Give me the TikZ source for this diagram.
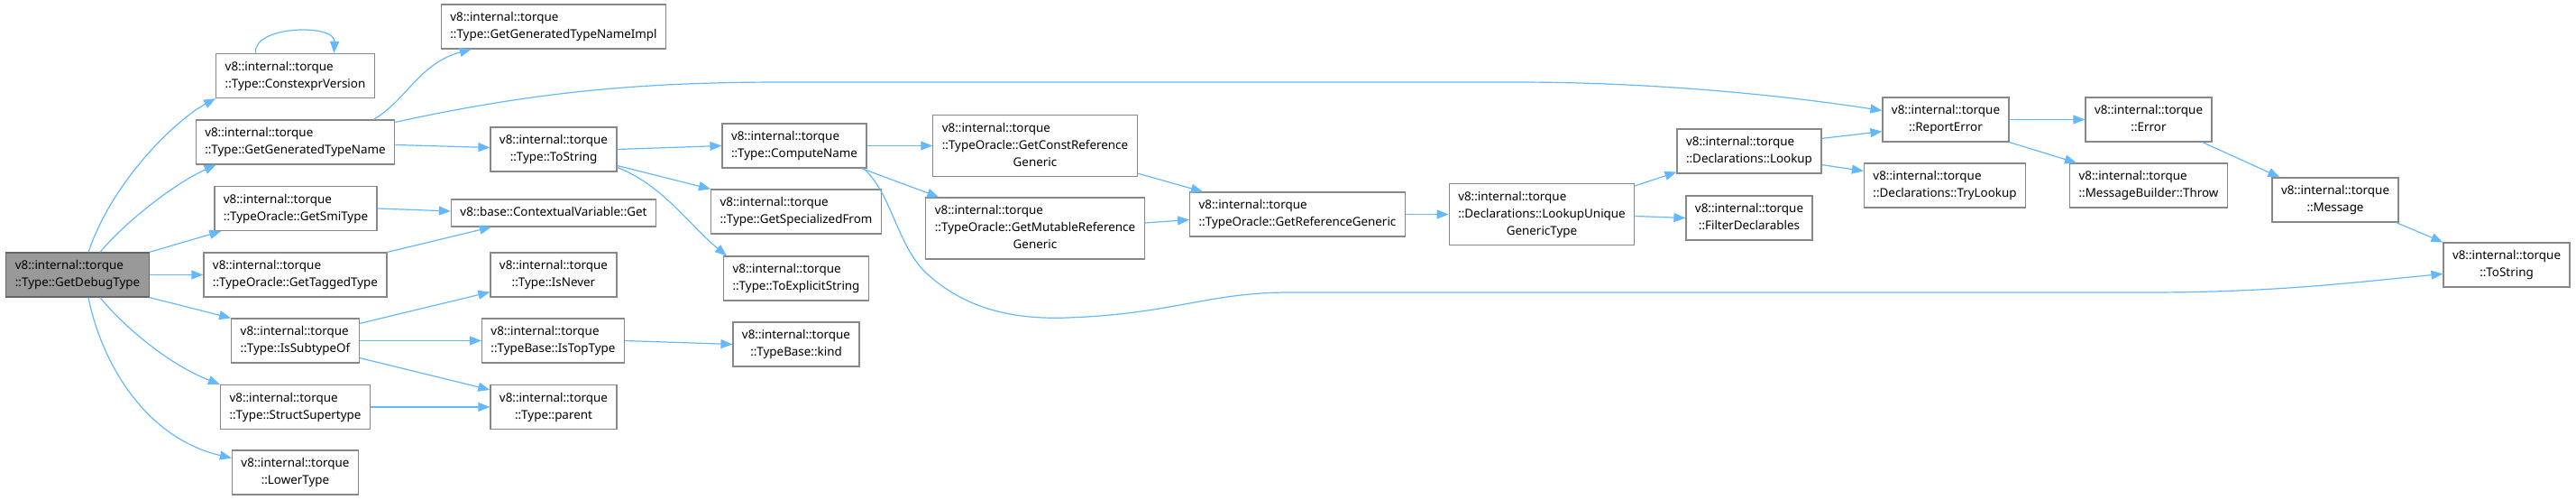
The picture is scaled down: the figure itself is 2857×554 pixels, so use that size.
\documentclass[tikz,border=0pt]{standalone}
\usepackage{fontspec}
\setmainfont{Noto Sans}
\usetikzlibrary{arrows.meta}
\definecolor{edgeblue}{HTML}{63B8FF}
\definecolor{boxgray}{HTML}{888888}
\definecolor{rootgray}{HTML}{999999}
\definecolor{rootline}{HTML}{666666}
% first lines left, last line centred
\newcommand{\fname}[2]{\begin{tabular}{@{}l@{}}#1\\\multicolumn{1}{@{}c@{}}{#2}\end{tabular}}

\begin{document}
\begin{tikzpicture}[x=1pt, y=-1pt,
  box/.style={rectangle, draw=boxgray, fill=white, line width=1.2pt, inner xsep=10pt, inner ysep=5.5pt, font=\fontsize{13.4}{19}\selectfont},
  root/.style={box, draw=rootline, fill=rootgray},
  arrow/.style={-{Triangle[length=13pt,width=10pt]}, edgeblue, line width=1.2pt}
]
\useasboundingbox (0,0) rectangle (2857,554);

\node[root] (deb) at (86,304.5) {\fname{v8::internal::torque}{::Type::GetDebugType}};
\node[box] (cev) at (327.5,84) {\fname{v8::internal::torque}{::Type::ConstexprVersion}};
\node[box] (gtn) at (327.5,157.5) {\fname{v8::internal::torque}{::Type::GetGeneratedTypeName}};
\node[box] (smi) at (328,231) {\fname{v8::internal::torque}{::TypeOracle::GetSmiType}};
\node[box] (tag) at (327.5,304.5) {\fname{v8::internal::torque}{::TypeOracle::GetTaggedType}};
\node[box] (sub) at (327.5,377.5) {\fname{v8::internal::torque}{::Type::IsSubtypeOf}};
\node[box] (sst) at (327.5,451) {\fname{v8::internal::torque}{::Type::StructSupertype}};
\node[box] (low) at (327.5,523.5) {\fname{v8::internal::torque}{::LowerType}};

\node[box] (gtni) at (614,29.5) {\fname{v8::internal::torque}{::Type::GetGeneratedTypeNameImpl}};
\node[box] (tts) at (614,165.5) {\fname{v8::internal::torque}{::Type::ToString}};
\node[box] (cvg) at (614,236) {\strut v8::base::ContextualVariable::Get};
\node[box] (nev) at (614,304.5) {\fname{v8::internal::torque}{::Type::IsNever}};
\node[box] (top) at (613.5,377.5) {\fname{v8::internal::torque}{::TypeBase::IsTopType}};
\node[box] (par) at (614,451) {\fname{v8::internal::torque}{::Type::parent}};

\node[box] (cmp) at (881,161.5) {\fname{v8::internal::torque}{::Type::ComputeName}};
\node[box] (spf) at (883,234.5) {\fname{v8::internal::torque}{::Type::GetSpecializedFrom}};
\node[box] (tes) at (883,308.5) {\fname{v8::internal::torque}{::Type::ToExplicitString}};
\node[box] (knd) at (883,381.5) {\fname{v8::internal::torque}{::TypeBase::kind}};

\node[box] (gcr) at (1148,161.5) {\fname{v8::internal::torque\\::TypeOracle::GetConstReference}{Generic}};
\node[box] (gmr) at (1148,253) {\fname{v8::internal::torque\\::TypeOracle::GetMutableReference}{Generic}};
\node[box] (grg) at (1439,237.5) {\fname{v8::internal::torque}{::TypeOracle::GetReferenceGeneric}};
\node[box] (lug) at (1710,237.5) {\fname{v8::internal::torque\\::Declarations::LookupUnique}{GenericType}};
\node[box] (dlk) at (1940,167.5) {\fname{v8::internal::torque}{::Declarations::Lookup}};
\node[box] (fdc) at (1940,241.5) {\fname{v8::internal::torque}{::FilterDeclarables}};

\node[box] (rep) at (2158,132.5) {\fname{v8::internal::torque}{::ReportError}};
\node[box] (tlk) at (2157,205.5) {\fname{v8::internal::torque}{::Declarations::TryLookup}};
\node[box] (err) at (2383,132.5) {\fname{v8::internal::torque}{::Error}};
\node[box] (thr) at (2383,205.5) {\fname{v8::internal::torque}{::MessageBuilder::Throw}};
\node[box] (msg) at (2590,221.5) {\fname{v8::internal::torque}{::Message}};
\node[box] (tos) at (2780,293.5) {\fname{v8::internal::torque}{::ToString}};

% calls from GetDebugType
\draw[arrow] ([xshift=12]deb.north) .. controls (125,200) and (195,133) .. (cev.south west);
\draw[arrow] ([xshift=25]deb.north) .. controls (135,250) and (190,205) .. ([xshift=23]gtn.south west);
\draw[arrow] (deb.north east) -- ([xshift=8]smi.south west);
\draw[arrow] (deb.east) -- (tag.west);
\draw[arrow] (deb.south east) -- (sub.north west);
\draw[arrow] ([xshift=25]deb.south) .. controls (140,365) and (190,405) .. (sst.north west);
\draw[arrow] ([xshift=12]deb.south) .. controls (112,400) and (160,485) .. ([yshift=16]low.west);

\draw[arrow] ([xshift=-44]cev.north) .. controls (280,28) and (372,26) .. ([xshift=43]cev.north);

% GetGeneratedTypeName
\draw[arrow] ([xshift=-24]gtn.north east) .. controls (450,112) and (465,70) .. ([xshift=34]gtni.south west);
\draw[arrow] ([yshift=-3]gtn.north east) .. controls (600,100) and (720,91) .. (870,91)
  -- (1680,91) .. controls (1820,91) and (1960,103) .. ([yshift=10]rep.west);
\draw[arrow] ([yshift=-3]gtn.east) -- ([yshift=2]tts.west);

\draw[arrow] (smi.east) -- ([yshift=2]cvg.west);
\draw[arrow] (tag.north east) -- ([xshift=45]cvg.south west);

\draw[arrow] ([yshift=-6]sub.north east) -- ([yshift=6]nev.south west);
\draw[arrow] (sub.east) -- (top.west);
\draw[arrow] ([yshift=6]sub.south east) -- ([yshift=-6]par.north west);
\draw[arrow] (sst.east) -- (par.west);
\draw[arrow] (top.east) -- (knd.west);

% Type::ToString
\draw[arrow] (tts.east) -- (cmp.west);
\draw[arrow] ([yshift=-18]tts.east) -- (spf.north west);
\draw[arrow] ([yshift=-20]tts.east) .. controls (735,205) and (765,250) .. ([xshift=4]tes.north west);

% ComputeName
\draw[arrow] (cmp.east) -- (gcr.west);
\draw[arrow] ([xshift=-6]cmp.south east) -- ([xshift=15]gmr.north west);
\draw[arrow] ([xshift=-4]cmp.south east) .. controls (990,215) and (995,275) .. (1030,305)
  .. controls (1075,345) and (1130,354) .. (1184,352)
  .. controls (1300,348) and (1340,324) .. (1430,324)
  -- (2380,324) .. controls (2520,324) and (2600,314) .. ([yshift=-10]tos.west);

\draw[arrow] ([yshift=4]gcr.south east) -- ([xshift=15]grg.north west);
\draw[arrow] ([yshift=6]gmr.east) -- ([yshift=-6]grg.west);
\draw[arrow] (grg.east) -- (lug.west);
\draw[arrow] ([yshift=-3]lug.north east) -- ([yshift=2]dlk.south west);
\draw[arrow] ([yshift=-2]lug.east) -- (fdc.west);
\draw[arrow] ([yshift=-11]dlk.north east) -- ([yshift=12]rep.south west);
\draw[arrow] ([yshift=10]dlk.south east) -- ([yshift=-9]tlk.north west);

% ReportError
\draw[arrow] (rep.east) -- (err.west);
\draw[arrow] (rep.south east) -- ([xshift=8]thr.north west);
\draw[arrow] ([xshift=-11]err.south east) -- ([xshift=9]msg.north west);
\draw[arrow] ([xshift=-3]msg.south east) -- (tos.north west);
\end{tikzpicture}
\end{document}
